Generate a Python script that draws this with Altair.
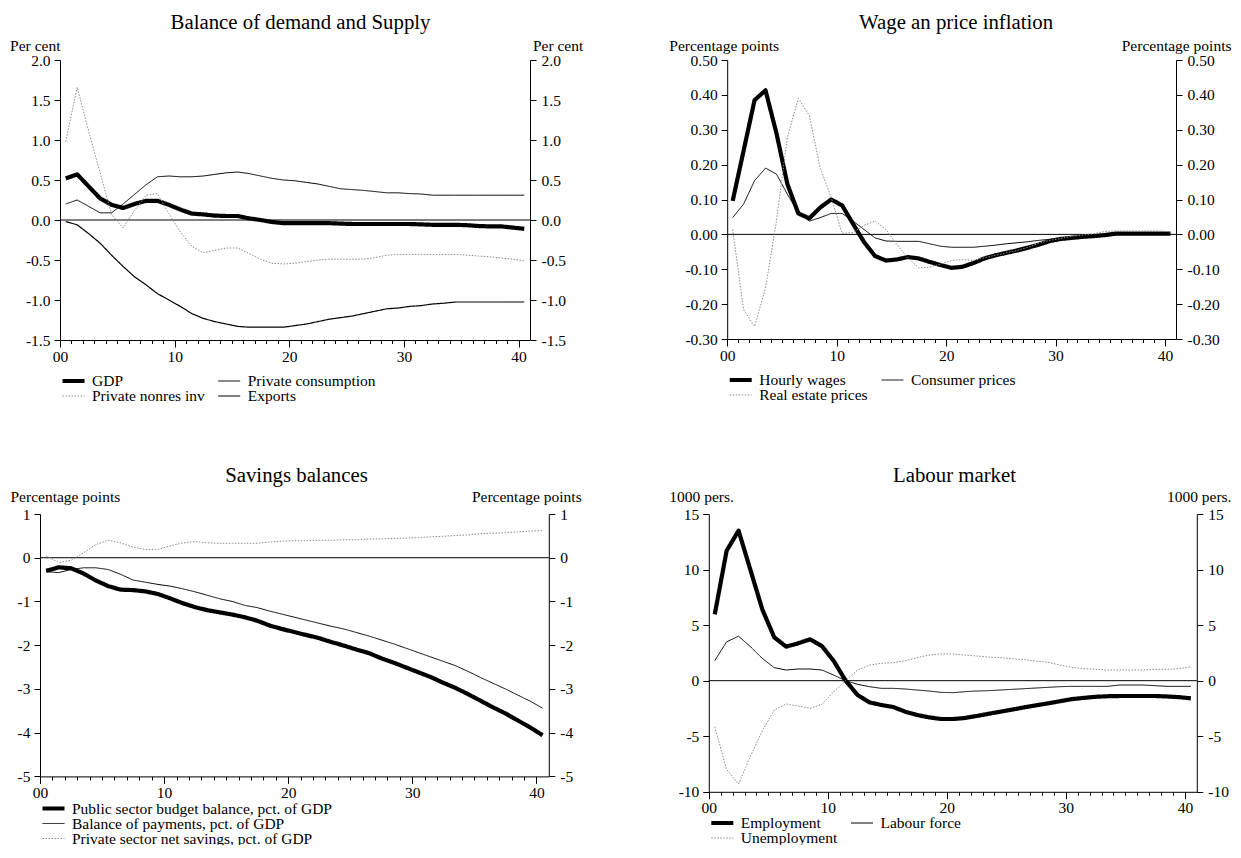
import altair as alt
import pandas as pd

FONT = "Liberation Serif"

# ---------------- data ----------------
quarters = [i + 0.5 for i in range(41)]

p1_series = ["GDP", "Private consumption", "Private nonres inv", "Exports"]
gdp = [0.52, 0.57, 0.42, 0.27, 0.19, 0.15, 0.20, 0.24, 0.24, 0.19,
       0.13, 0.08, 0.07, 0.055, 0.05, 0.05, 0.02, 0.0, -0.025, -0.04,
       -0.04, -0.04, -0.04, -0.04, -0.045, -0.05, -0.05, -0.05, -0.05, -0.05,
       -0.05, -0.055, -0.06, -0.06, -0.06, -0.065, -0.075, -0.08, -0.08, -0.095, -0.11]
consumption = [0.20, 0.25, 0.17, 0.09, 0.09, 0.20, 0.32, 0.44, 0.54, 0.55,
               0.54, 0.54, 0.55, 0.57, 0.59, 0.60, 0.58, 0.55, 0.52, 0.50,
               0.49, 0.47, 0.45, 0.42, 0.39, 0.38, 0.37, 0.355, 0.34, 0.34,
               0.33, 0.325, 0.31, 0.31, 0.31, 0.31, 0.31, 0.31, 0.31, 0.31, 0.31]
nonres_inv = [0.98, 1.66, 1.11, 0.59, 0.07, -0.10, 0.12, 0.31, 0.33, 0.08,
              -0.15, -0.33, -0.41, -0.38, -0.35, -0.35, -0.42, -0.49, -0.54, -0.55,
              -0.54, -0.52, -0.50, -0.49, -0.49, -0.49, -0.49, -0.47, -0.44, -0.43,
              -0.43, -0.43, -0.43, -0.43, -0.43, -0.44, -0.45, -0.46, -0.475, -0.49, -0.51]
exports = [-0.02, -0.06, -0.17, -0.29, -0.44, -0.58, -0.71, -0.81, -0.92, -1.0,
           -1.08, -1.17, -1.23, -1.27, -1.30, -1.33, -1.34, -1.34, -1.34, -1.34,
           -1.32, -1.30, -1.27, -1.24, -1.22, -1.20, -1.17, -1.14, -1.11, -1.10,
           -1.08, -1.07, -1.05, -1.04, -1.025, -1.025, -1.025, -1.025, -1.025, -1.025, -1.025]

p2_series = ["Hourly wages", "Consumer prices", "Real estate prices"]
hourly_wages = [0.096, 0.24, 0.385, 0.413, 0.29, 0.144, 0.06, 0.046, 0.077, 0.10,
                0.083, 0.03, -0.022, -0.062, -0.075, -0.072, -0.065, -0.069, -0.079, -0.088,
                -0.096, -0.093, -0.082, -0.069, -0.06, -0.053, -0.046, -0.038, -0.029, -0.019,
                -0.013, -0.01, -0.007, -0.005, -0.002, 0.002, 0.002, 0.002, 0.002, 0.002, 0.002]
consumer_prices = [0.048, 0.087, 0.154, 0.19, 0.173, 0.115, 0.062, 0.038, 0.048, 0.06,
                   0.06, 0.038, 0.014, -0.01, -0.019, -0.02, -0.02, -0.02, -0.027, -0.034,
                   -0.037, -0.037, -0.037, -0.034, -0.031, -0.027, -0.024, -0.021, -0.017, -0.014,
                   -0.011, -0.008, -0.005, -0.002, 0.0, 0.0, 0.0, 0.0, 0.0, 0.0, 0.0]
real_estate = [0.014, -0.216, -0.264, -0.154, 0.038, 0.279, 0.39, 0.341, 0.19, 0.106,
               0.003, 0.005, 0.026, 0.038, 0.014, -0.029, -0.067, -0.096, -0.094, -0.085,
               -0.075, -0.072, -0.075, -0.067, -0.06, -0.053, -0.046, -0.037, -0.025, -0.017,
               -0.012, -0.005, -0.002, 0.002, 0.008, 0.01, 0.01, 0.01, 0.01, 0.01, 0.007]

p3_series = ["Public sector budget balance, pct. of GDP",
             "Balance of payments, pct. of GDP",
             "Private sector net savings, pct. of GDP"]
public_balance = [-0.30, -0.22, -0.24, -0.36, -0.52, -0.65, -0.73, -0.74, -0.77, -0.83,
                  -0.93, -1.04, -1.13, -1.20, -1.25, -1.30, -1.36, -1.44, -1.55, -1.63,
                  -1.70, -1.77, -1.84, -1.93, -2.01, -2.10, -2.18, -2.30, -2.40, -2.51,
                  -2.62, -2.73, -2.86, -2.98, -3.12, -3.27, -3.42, -3.56, -3.72, -3.88, -4.06]
balance_payments = [-0.32, -0.34, -0.27, -0.23, -0.23, -0.27, -0.38, -0.51, -0.56, -0.61,
                    -0.65, -0.71, -0.78, -0.86, -0.94, -1.00, -1.09, -1.14, -1.22, -1.29,
                    -1.36, -1.43, -1.50, -1.57, -1.63, -1.71, -1.79, -1.88, -1.97, -2.07,
                    -2.17, -2.27, -2.37, -2.47, -2.60, -2.74, -2.87, -3.00, -3.14, -3.28, -3.44]
private_savings = [0.04, -0.11, -0.06, 0.11, 0.30, 0.40, 0.34, 0.24, 0.19, 0.19,
                   0.27, 0.34, 0.37, 0.34, 0.33, 0.33, 0.33, 0.33, 0.36, 0.38,
                   0.39, 0.39, 0.40, 0.40, 0.41, 0.41, 0.43, 0.43, 0.44, 0.45,
                   0.46, 0.48, 0.49, 0.51, 0.52, 0.55, 0.56, 0.57, 0.59, 0.61, 0.62]

p4_series = ["Employment", "Labour force", "Unemployment"]
employment = [5.97, 11.7, 13.5, 9.96, 6.4, 3.9, 3.06, 3.36, 3.72, 3.12,
              1.77, 0.0, -1.29, -1.95, -2.19, -2.37, -2.79, -3.09, -3.3, -3.45,
              -3.45, -3.36, -3.18, -2.98, -2.79, -2.6, -2.4, -2.22, -2.04, -1.85,
              -1.66, -1.55, -1.45, -1.4, -1.38, -1.38, -1.38, -1.38, -1.42, -1.48, -1.59]
labour_force = [1.8, 3.5, 4.0, 3.06, 2.0, 1.17, 0.96, 1.05, 1.05, 0.96,
                0.5, 0.0, -0.33, -0.54, -0.69, -0.69, -0.75, -0.84, -0.93, -1.05,
                -1.08, -0.99, -0.93, -0.9, -0.84, -0.78, -0.72, -0.66, -0.6, -0.54,
                -0.51, -0.51, -0.51, -0.51, -0.39, -0.39, -0.39, -0.45, -0.51, -0.51, -0.51]
unemployment = [-4.15, -8.0, -9.3, -6.8, -4.5, -2.64, -2.1, -2.28, -2.49, -2.13,
                -1.0, 0.0, 0.96, 1.41, 1.56, 1.62, 1.8, 2.07, 2.31, 2.4,
                2.4, 2.31, 2.22, 2.13, 2.07, 1.98, 1.89, 1.77, 1.65, 1.41,
                1.2, 1.08, 1.02, 0.96, 0.96, 0.96, 0.96, 1.02, 1.02, 1.08, 1.26]

p1_ticks = [-1.5, -1.0, -0.5, 0.0, 0.5, 1.0, 1.5, 2.0]
p2_ticks = [-0.3, -0.2, -0.1, 0.0, 0.1, 0.2, 0.3, 0.4, 0.5]
p3_ticks = [-5, -4, -3, -2, -1, 0, 1]
p4_ticks = [-10, -5, 0, 5, 10, 15]
x_ticks = list(range(41))

# ---------------- layout / styles ----------------
W, H = 1224, 837          # whole drawing, one view; page origin is (8, 8)
M = 8
THICK, THIN, DOT = 4.2, 1.0, 1.0
BLACK, GREY = "#000000", "#8c8c8c"
SOLID, DOTTED = [1, 0], [1.5, 1.5]
TICK_FS, TITLE_FS = 15.5, 20.8


def long_frame(names, arrays):
    rows = []
    for n, arr in zip(names, arrays):
        for xv, v in zip(quarters, arr):
            rows.append({"x": xv, "v": v, "s": n})
    return pd.DataFrame(rows)


def panel(df, names, colors, widths, dashes, title, ydom, yticks, fmt, unit,
          box, title_pos, unit_base, lt_x, rt_x, leg_cols, leg_row1, leg_pad):
    xl, xr, yt, yb = box
    xscale = alt.Scale(domain=[0, 41], range=[xl - M, xr - M], nice=False, zero=False)
    yscale = alt.Scale(domain=ydom, range=[yb - M, yt - M], nice=False, zero=False)
    label_expr = "(datum.value < -1e-9 ? '-' : '') + format(abs(datum.value), '%s')" % fmt

    x_axis = alt.Axis(
        orient="bottom", offset=(yb - M) - H,
        values=x_ticks, grid=False, labelOverlap=False, labelFlush=False,
        labelExpr="datum.value % 10 === 0 ? (datum.value === 0 ? '00' : format(datum.value, 'd')) : ''",
        tickSize={"condition": {"test": "datum.value % 10 === 0", "value": 7}, "value": 3.5},
        labelFont=FONT, labelFontSize=TICK_FS, labelColor="#000", labelPadding=2,
        domainColor="#000", tickColor="#000",
        title=title, titleFont=FONT, titleFontSize=TITLE_FS, titleFontWeight="normal",
        titleColor="#000", titleAngle=0, titleAlign="center", titleBaseline="alphabetic",
        titleX=title_pos[0] - M, titleY=title_pos[1] - yb,
    )
    common_y = dict(values=yticks, grid=False, labelExpr=label_expr, labelFont=FONT,
                    labelFontSize=TICK_FS, labelColor="#000", domainColor="#000",
                    tickColor="#000", tickSize=6, labelOverlap=False,
                    title=unit, titleAngle=0, titleFont=FONT, titleFontSize=TICK_FS,
                    titleFontWeight="normal", titleColor="#000",
                    titleBaseline="alphabetic", titleY=unit_base - M)
    left_axis = alt.Axis(orient="left", offset=-(xl - M), labelPadding=4,
                         titleAlign="left", titleX=lt_x, **common_y)
    right_axis = alt.Axis(orient="right", offset=(xr - M) - W, labelPadding=5,
                          titleAlign="right", titleX=rt_x, **common_y)

    legend = alt.Legend(title=None, orient="none", legendX=xl - M, legendY=leg_row1 - 6.5 - M,
                        columns=leg_cols, direction="horizontal" if leg_cols > 1 else "vertical",
                        symbolType="stroke", symbolSize=484, clipHeight=13,
                        labelFont=FONT, labelFontSize=TICK_FS, labelColor="#000", labelLimit=600,
                        labelOffset=5, columnPadding=10.7, rowPadding=leg_pad, padding=0,
                        symbolOpacity=1)

    lines = alt.Chart(df).mark_line(strokeJoin="round").encode(
        x=alt.X("x:Q", scale=xscale, axis=x_axis),
        y=alt.Y("v:Q", scale=yscale, axis=left_axis),
        color=alt.Color("s:N", scale=alt.Scale(domain=names, range=colors), legend=legend, sort=names),
        strokeWidth=alt.StrokeWidth("s:N", scale=alt.Scale(type="ordinal", domain=names, range=widths),
                                    legend=legend, sort=names),
        strokeDash=alt.StrokeDash("s:N", scale=alt.Scale(type="ordinal", domain=names, range=dashes),
                                  legend=legend, sort=names),
    )
    zero = alt.Chart(pd.DataFrame({"x0": [0], "x1": [41], "z": [0]})).mark_rule(
        color="#000", strokeWidth=1
    ).encode(
        x=alt.X("x0:Q", scale=xscale, axis=None),
        x2="x1:Q",
        y=alt.Y("z:Q", scale=yscale, axis=right_axis),
    )
    return [zero, lines]


layers = []
layers += panel(long_frame(p1_series, [gdp, consumption, nonres_inv, exports]), p1_series,
                [BLACK, BLACK, GREY, BLACK], [THICK, THIN, DOT, 1.2], [SOLID, SOLID, DOTTED, SOLID],
                "Balance of demand and Supply", [-1.5, 2.0], p1_ticks, ".1f", "Per cent",
                (60, 530, 60, 340), (300, 28), 50, -50.4, 52.8, 2, 381, -1)
layers += panel(long_frame(p2_series, [hourly_wages, consumer_prices, real_estate]), p2_series,
                [BLACK, BLACK, GREY], [THICK, THIN, DOT], [SOLID, SOLID, DOTTED],
                "Wage an price inflation", [-0.3, 0.5], p2_ticks, ".2f", "Percentage points",
                (727.2, 1176, 60, 339), (955.6, 28), 50, -58.4, 55, 2, 380, -1)
layers += panel(long_frame(p3_series, [public_balance, balance_payments, private_savings]), p3_series,
                [BLACK, BLACK, GREY], [THICK, THIN, DOT], [SOLID, SOLID, DOTTED],
                "Savings balances", [-5, 1], p3_ticks, "d", "Percentage points",
                (40, 548.8, 514, 776.4), (296, 481.7), 501.7, -30, 32.4, 1, 808.5, -2)
layers += panel(long_frame(p4_series, [employment, labour_force, unemployment]), p4_series,
                [BLACK, BLACK, GREY], [THICK, THIN, DOT], [SOLID, SOLID, DOTTED],
                "Labour market", [-10, 15], p4_ticks, "d", "1000 pers.",
                (708.8, 1196.8, 514, 791.8), (954, 481.7), 501.7, -40, 34.2, 2, 823, -2)

chart = alt.layer(*layers).resolve_scale(
    x="independent", y="independent", color="independent",
    strokeWidth="independent", strokeDash="independent",
).properties(
    width=W, height=H,
    autosize=alt.AutoSizeParams(type="none"),
    padding=0,
    background="white",
).configure_view(stroke=None)

chart.save("out.html", embed_options={"renderer": "svg", "actions": False})
